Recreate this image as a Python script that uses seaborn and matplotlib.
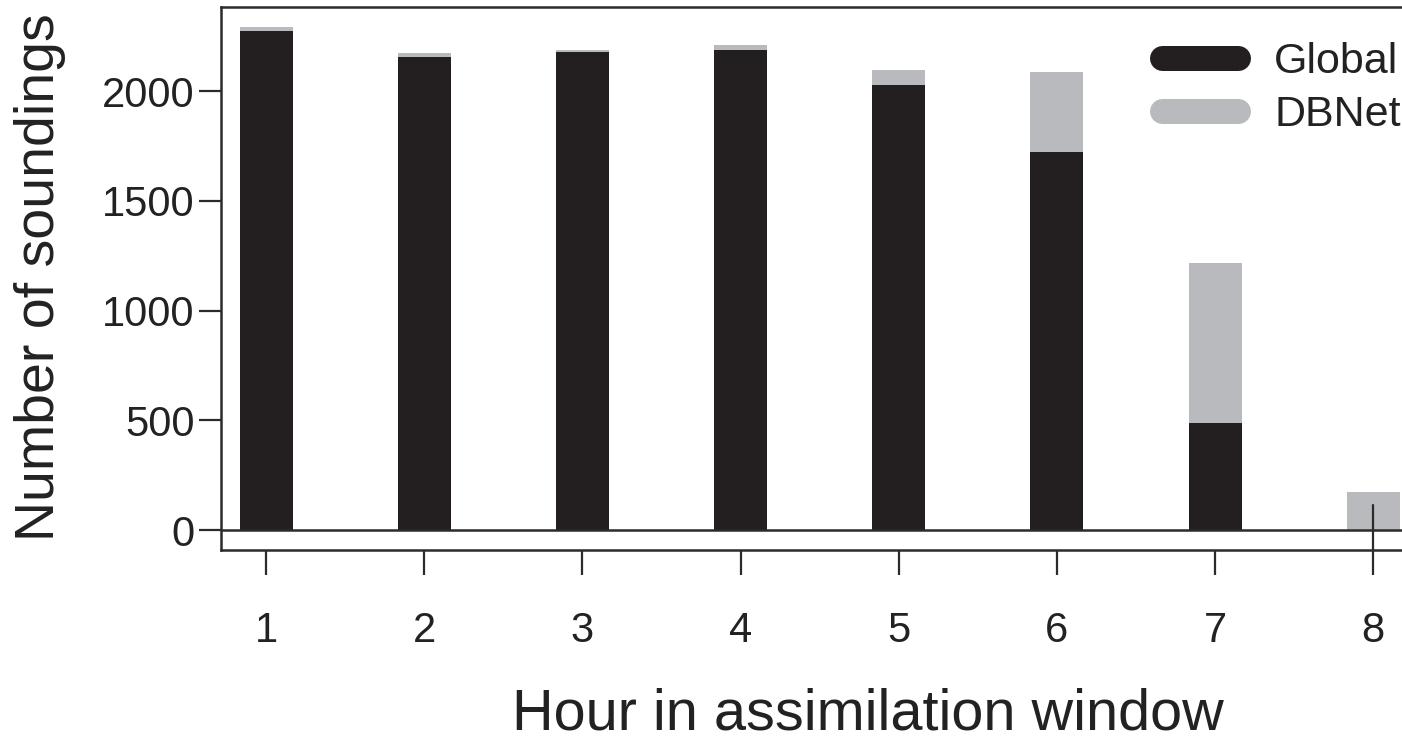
import matplotlib
matplotlib.use("Agg")
import matplotlib.pyplot as plt
from matplotlib.lines import Line2D
import seaborn as sns
import pandas as pd

# Soundings per hour of the assimilation window
hours = ["1", "2", "3", "4", "5", "6", "7", "8"]
global_counts = [2273, 2153, 2178, 2187, 2027, 1722, 489, 0]
total_counts = [2292, 2172, 2187, 2210, 2096, 2086, 1218, 175]
series_names = ["Global", "DBNet"]
yticks = [0, 500, 1000, 1500, 2000]

BLACK = "#231f20"
GREY = "#b9babd"
LINE = "#2b2b2b"

sns.set_theme(style="white")
plt.rcParams["font.family"] = ["Liberation Sans", "DejaVu Sans"]

df = pd.DataFrame({"hour": hours, "global": global_counts, "total": total_counts})

fig = plt.figure(figsize=(14.02, 7.46), dpi=100)
ax = fig.add_axes([0.1576, 0.2627, 0.854, 0.7279])

# Stacked bars: totals in grey, Global portion in black on top
sns.barplot(data=df, x="hour", y="total", order=hours, color=GREY,
            width=0.335, saturation=1, ax=ax, linewidth=0)
sns.barplot(data=df, x="hour", y="global", order=hours, color=BLACK,
            width=0.335, saturation=1, ax=ax, linewidth=0)

ax.set_xlim(-0.285, 7.285)
ax.set_ylim(-91, 2383)
ax.axhline(0, color=LINE, lw=1.8, zorder=3)

ax.set_yticks(yticks)
ax.set_yticklabels([str(v) for v in yticks])

for side in ["left", "top", "bottom", "right"]:
    ax.spines[side].set_color(LINE)
    ax.spines[side].set_linewidth(1.8)

ax.tick_params(axis="y", direction="out", length=16, width=1.6, color=LINE,
               labelsize=30, pad=3, left=True, labelcolor="#222222")
ax.tick_params(axis="x", direction="out", length=18, width=1.6, color=LINE,
               labelsize=30, pad=26, bottom=True, labelcolor="#222222")

# the last tick mark runs up through its bar
ax.plot([7, 7], [ax.get_ylim()[0], 114], color=LINE, lw=1.6, zorder=4,
        clip_on=False)

ax.set_xlabel("Hour in assimilation window", fontsize=41.5, color="#222222")
ax.set_ylabel("Number of soundings", fontsize=40, color="#222222")
ax.xaxis.label.set_va("center")
ax.yaxis.label.set_va("center")
ax.xaxis.set_label_coords(0.54, -0.302)
ax.yaxis.set_label_coords(-0.151, 0.503)

handles = [Line2D([0], [0], color=BLACK, lw=18, solid_capstyle="round"),
           Line2D([0], [0], color=GREY, lw=18, solid_capstyle="round")]
leg = fig.legend(handles, series_names, loc="upper left",
                 bbox_to_anchor=(0.829, 0.944), frameon=False, fontsize=31,
                 handlelength=1.75, handletextpad=0.85, labelspacing=0.31,
                 borderpad=0, borderaxespad=0)
for t in leg.get_texts():
    t.set_color("#222222")

fig.savefig("out.png", dpi=100)
